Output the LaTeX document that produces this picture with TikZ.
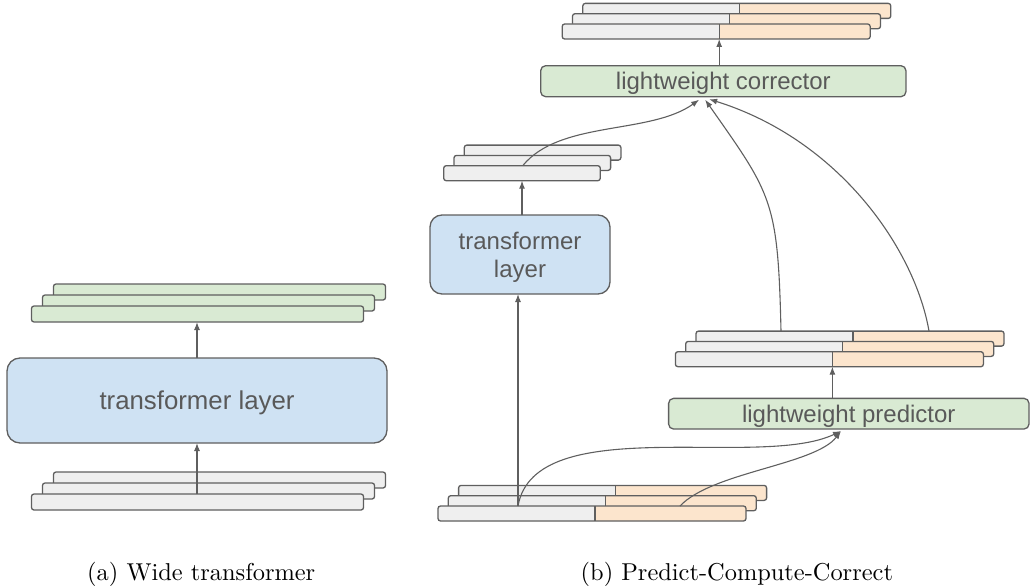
\documentclass[tikz,border=0pt]{standalone}
\usepackage{fontspec}
\newfontfamily\boxfont{Liberation Sans}
\usetikzlibrary{arrows.meta,calc}
\definecolor{linec}{HTML}{5F5F5F}
\definecolor{textc}{HTML}{595959}
\definecolor{blueF}{HTML}{CFE2F3}
\definecolor{greenF}{HTML}{D9EAD3}
\definecolor{grayF}{HTML}{EFEFEF}
\definecolor{orangeF}{HTML}{FCE5CD}
\begin{document}
\begin{tikzpicture}[x=1pt,y=-1pt,
  bar/.style={draw=linec, line width=1.3pt, rounded corners=2.5pt, fill=grayF,
    minimum height=15pt, inner sep=0pt, outer sep=0pt},
  gbar/.style={bar, fill=greenF, minimum height=16pt, minimum width=332pt},
  wbar/.style={bar, minimum height=16pt, minimum width=332pt},
  sbar/.style={bar, minimum width=156.6pt},
  splitbar/.style={bar, minimum width=308pt, fill=orangeF,
    path picture={
      \fill[grayF] (path picture bounding box.south west) rectangle ([xshift=157pt]path picture bounding box.north west);
      \draw[linec, line width=1.3pt] ([xshift=157pt]path picture bounding box.south west) -- ([xshift=157pt]path picture bounding box.north west);
    }},
  box/.style={draw=linec, line width=1.3pt, text=textc, inner sep=0pt, outer sep=0pt, align=center, text depth=0pt},
  bluebox/.style={box, fill=blueF, rounded corners=12pt},
  greenbox/.style={box, fill=greenF, rounded corners=5pt},
  arr/.style={draw=linec, line width=1.1pt, -{Latex[length=8pt,width=6pt]}},
  captext/.style={anchor=base west, inner sep=0pt}
]
\useasboundingbox (0,0) rectangle (1031,586);

% ---------- (a) ----------
\node[wbar] (ain3) at (219.5,480) {};
\node[wbar] (ain2) at (208.5,491) {};
\node[wbar] (ain1) at (197.5,502) {};
\node[bluebox, rounded corners=13pt, minimum width=380pt, minimum height=85pt,
  font=\boxfont\fontsize{25.8}{30}\selectfont] (atr) at (197,400.5) {transformer layer};
\node[gbar] (aout3) at (219.5,292) {};
\node[gbar] (aout2) at (208.5,303) {};
\node[gbar] (aout1) at (197.5,314) {};
\draw[arr] (atr.south |- ain1.north) -- (atr.south);
\draw[arr] (atr.north) -- (atr.north |- aout1.south);

% ---------- (b) ----------
% bottom input stack
\node[splitbar] (bB3) at (612.6,492.9) {};
\node[splitbar] (bB2) at (602.3,503.2) {};
\node[splitbar] (bB1) at (592,513.5) {};
% transformer layer
\node[bluebox, minimum width=180pt, minimum height=79pt,
  font=\boxfont\fontsize{24}{28}\selectfont] (tb) at (520,254.5) {transformer\\layer};
% transformer output stack
\node[sbar] (tO3) at (542.6,152.6) {};
\node[sbar] (tO2) at (532.3,162.9) {};
\node[sbar] (tO1) at (522,173.2) {};
% predictor
\node[greenbox, minimum width=360.4pt, minimum height=30.7pt,
  font=\boxfont\fontsize{24}{28}\selectfont] (pred) at (848.8,413.7) {lightweight predictor};
% predictor output stack
\node[splitbar] (pO3) at (850,338.6) {};
\node[splitbar] (pO2) at (839.7,348.9) {};
\node[splitbar] (pO1) at (829.4,359.2) {};
% corrector
\node[greenbox, minimum width=365.3pt, minimum height=31pt,
  font=\boxfont\fontsize{24}{28}\selectfont] (corr) at (723.3,81.2) {lightweight corrector};
% final output stack
\node[splitbar] (cO3) at (736.8,10.9) {};
\node[splitbar] (cO2) at (726.5,21.2) {};
\node[splitbar] (cO1) at (716.2,31.5) {};

% anchor coordinates
\coordinate (bsrc) at ([xshift=80pt]bB1.north west);
\coordinate (bsrc2) at ([xshift=242pt]bB1.north west);
\coordinate (tsrc) at ([xshift=79pt]tO1.north west);
\coordinate (psrcA) at ([xshift=85pt]pO3.north west);
\coordinate (psrcB) at ([xshift=233pt]pO3.north west);
\coordinate (ptip) at ([xshift=172.4pt,yshift=-2pt]pred.south west);
\coordinate (ctip1) at ([xshift=158.5pt,yshift=-3pt]corr.south west);
\coordinate (ctip2) at ([xshift=164.5pt,yshift=-3pt]corr.south west);
\coordinate (ctip3) at ([xshift=168.5pt,yshift=-2.5pt]corr.south west);
\coordinate (pOs) at ([xshift=157pt]pO1.south west);
\coordinate (cOs) at ([xshift=157pt]cO1.south west);

% connectors
\draw[arr] (bsrc) -- (bsrc |- tb.south);
\draw[arr] (tb.north -| tO1.south) -- (tO1.south);
\draw[arr] (pred.north -| pOs) -- (pOs);
\draw[arr] (corr.north -| cOs) -- (cOs);
\draw[arr] (bsrc) .. controls (535,410) and (760,470) .. (ptip);
\draw[arr] (bsrc2) .. controls (712,472) and (815,465) .. (ptip);
\draw[arr] (tsrc) .. controls (560,120) and (650,135) .. (ctip1);
\draw[arr] (psrcA) .. controls (778,200) and (772,195) .. (ctip2);
\draw[arr] (psrcB) .. controls (915,250) and (840,140) .. (ctip3);

% captions
\node[captext] (capA) at (87,580.4) {\scalebox{2.44}{(a) Wide transformer}};
\node[captext] (capB) at (580.5,580.4) {\scalebox{2.44}{(b) Predict-Compute-Correct}};
\end{tikzpicture}
\end{document}
